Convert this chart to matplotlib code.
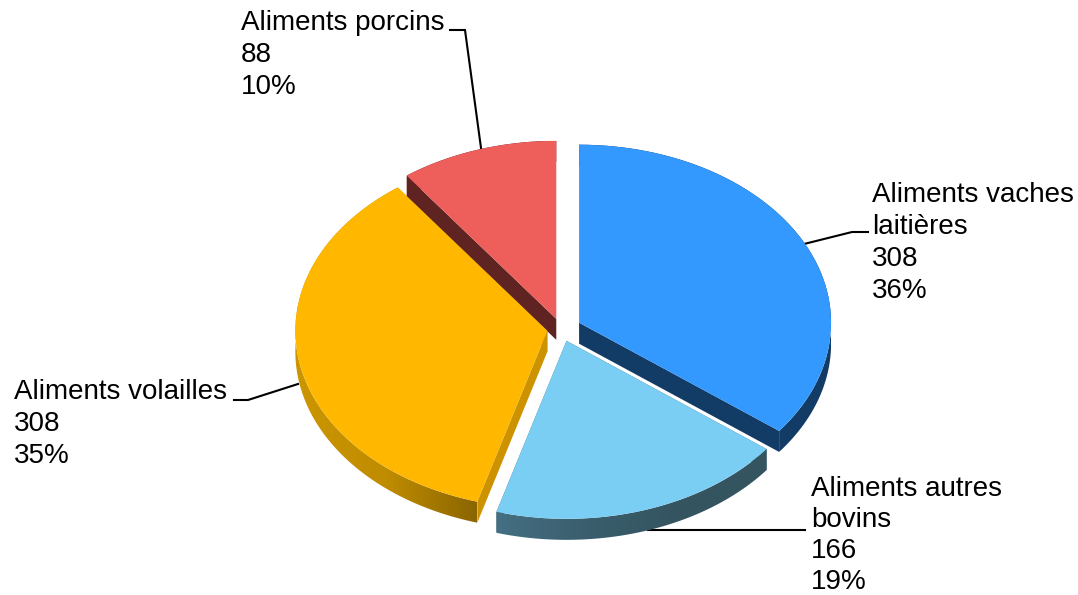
#!/usr/bin/env python3
"""Exploded pseudo-3D pie: aliments du betail, volumes and shares."""
import matplotlib
matplotlib.use("Agg")
import matplotlib.pyplot as plt
import matplotlib.patches as mpatches
import matplotlib.transforms as mtrans
from matplotlib.colors import LinearSegmentedColormap
import numpy as np

plt.rcParams["font.family"] = ["Liberation Sans", "DejaVu Sans"]

labels = ["Aliments vaches\nlaitières", "Aliments autres\nbovins", "Aliments volailles", "Aliments porcins"]
values = [308, 166, 308, 88]
shares = [36, 19, 35, 10]
explode = [0.08, 0.07, 0.055, 0.06]

top_colors = ["#3399ff", "#7acef4", "#ffb700", "#ee5e5a"]
wall_colors = ["#123c66", "#3a5e6d", "#cc9200", "#5f2422"]
# rim gradient, left to right along each slice
rim_grads = [["#123c66", "#123c66"],
             ["#456f83", "#3a5e6d", "#345560", "#345560"],
             ["#cc9600", "#c08c00", "#8a6500"],
             ["#5f2422", "#5f2422"]]

W, H = 1078, 595
CX, CY = 561, 329     # pie centre, px
RX, RY = 252, 178     # px per data unit, x and y
DEPTH = 21 / RY

fig = plt.figure(figsize=(W / 100, H / 100), dpi=100)
ax = fig.add_axes([0, 0, 1, 1])
wedges, _ = ax.pie(values, explode=explode, colors=top_colors, startangle=90, counterclock=False,
                   wedgeprops=dict(linewidth=0, zorder=3))

for w, wall, grad in zip(wedges, wall_colors, rim_grads):
    cx, cy = w.center
    # straight cut faces
    for a in (w.theta1, w.theta2):
        ex, ey = cx + np.cos(np.radians(a)), cy + np.sin(np.radians(a))
        ax.fill([cx, ex, ex, cx], [cy, ey, ey - DEPTH, cy - DEPTH], color=wall, lw=0, zorder=2)
    # outer rim: a gradient image clipped to the extruded arc
    th = np.radians(np.linspace(w.theta1, w.theta2, 200))
    xs, ys = cx + np.cos(th), cy + np.sin(th)
    verts = np.column_stack([np.r_[xs, xs[::-1]], np.r_[ys, ys[::-1] - DEPTH]])
    rim = mpatches.Polygon(verts, closed=True, transform=ax.transData, facecolor="none", lw=0)
    ax.add_patch(rim)
    cmap = LinearSegmentedColormap.from_list("rim", grad)
    im = ax.imshow(np.linspace(0, 1, 256)[None, :], cmap=cmap, aspect="auto", zorder=2,
                   extent=(xs.min(), xs.max(), ys.min() - DEPTH, ys.max()))
    im.set_clip_path(rim)

ax.set_aspect("auto")
ax.set_xlim(-CX / RX, (W - CX) / RX)
ax.set_ylim(-(H - CY) / RY, CY / RY)
ax.axis("off")

# reference pixels -> figure, for the labels and leader lines
px = mtrans.Affine2D().scale(1 / W, -1 / H).translate(0, 1) + fig.transFigure

label_pos = [(872, 202), (811, 496), (14, 399), (241, 30)]
line_steps = [32, 31, 32, 32]   # bovins block sits tight against the bottom edge
leaders = [([868, 852, 804], [232, 232, 244]),
           ([805, 648], [530, 530]),
           ([234, 248, 298], [400, 400, 384]),
           ([450, 465, 481], [30, 30, 148])]

for lab, val, sh, (lx, ly), step, (lnx, lny) in zip(labels, values, shares, label_pos, line_steps, leaders):
    lines = lab.split("\n") + [str(val), f"{sh}%"]
    for i, s in enumerate(lines):
        ax.text(lx, ly + i * step, s, transform=px, fontsize=20, color="black", va="baseline", ha="left")
    ax.plot(lnx, lny, transform=px, color="black", lw=1.5, zorder=1, solid_joinstyle="miter", clip_on=False)

fig.savefig("out.png", dpi=100)
